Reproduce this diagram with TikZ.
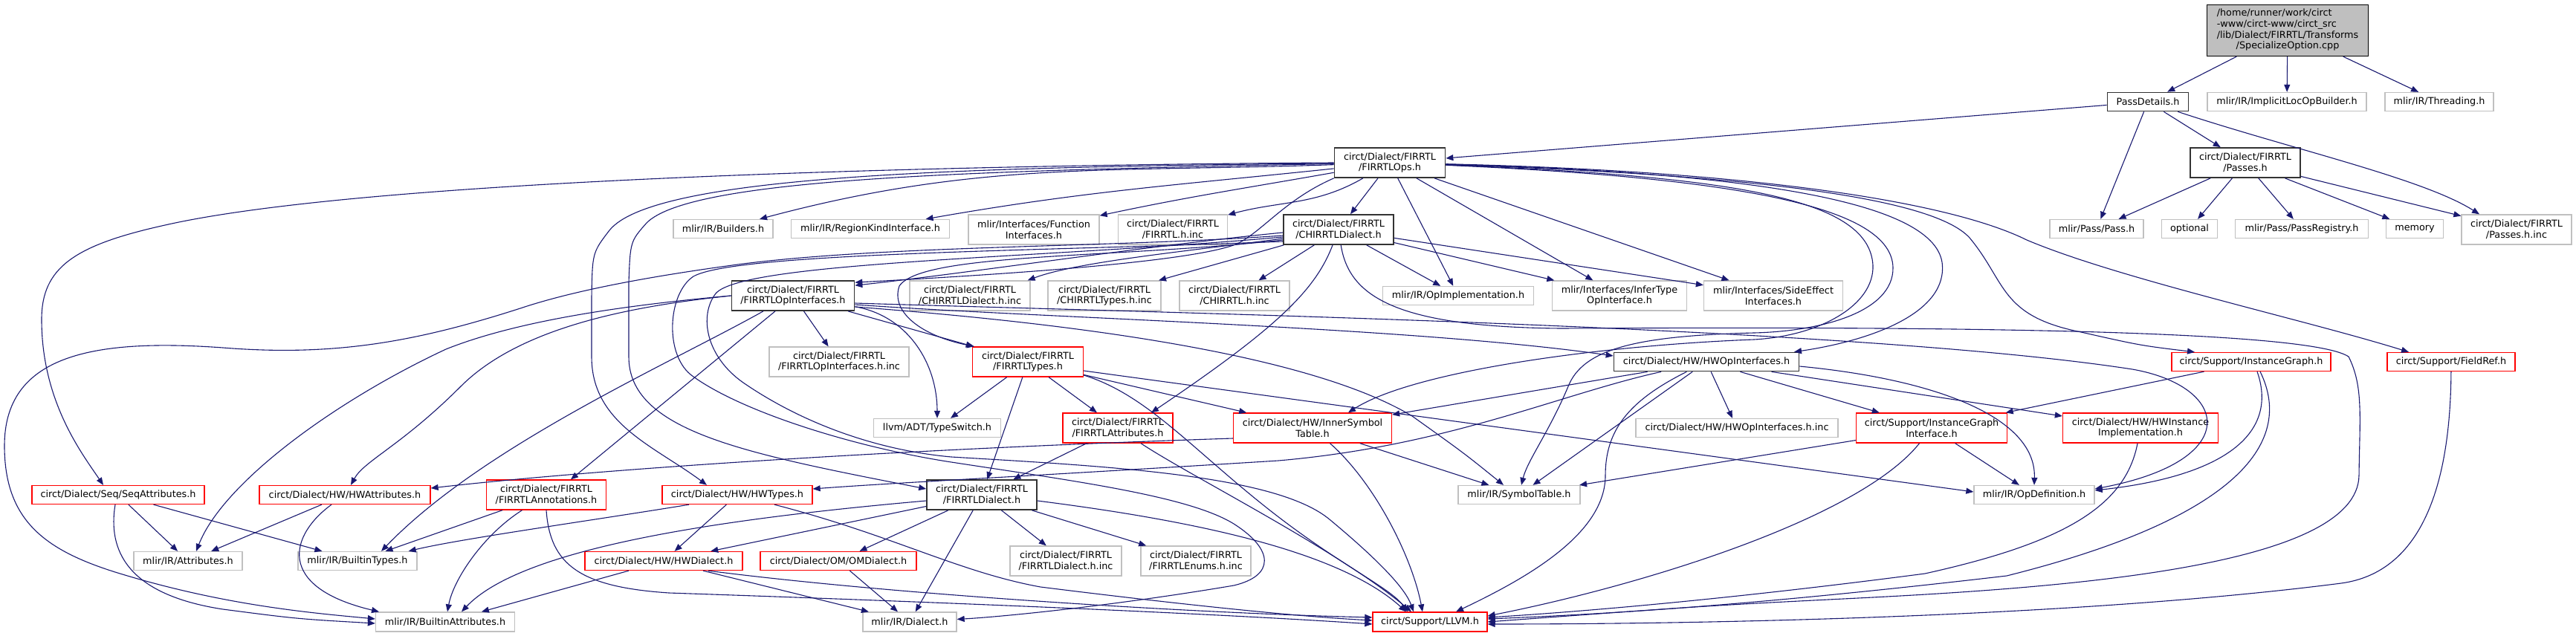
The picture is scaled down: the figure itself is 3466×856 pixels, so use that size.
\documentclass[tikz,border=0pt]{standalone}
\usepackage{fontspec}
\setmainfont{DejaVu Sans}
\usetikzlibrary{arrows.meta}
\definecolor{mblue}{HTML}{191970}
\definecolor{lgray}{HTML}{C0C0C0}
\definecolor{topfill}{HTML}{BFBFBF}
\begin{document}
\begin{tikzpicture}[x=1pt,y=-1pt,
  nd/.style={rectangle, line width=1.3pt, inner sep=0pt, minimum height=25pt, align=center, font=\fontsize{12.8}{14.7}\selectfont, text=black},
  gr/.style={nd, draw=lgray},
  rd/.style={nd, draw=red},
  bk/.style={nd, draw=black!80, line width=1.7pt},
  two/.style={minimum height=40pt},
  e/.style={draw=mblue, line width=1.1pt, -{Triangle[length=10pt,width=8pt]}},
]
\useasboundingbox (0,0) rectangle (3466,856);
% ---------- nodes ----------
\node[nd, draw=black, fill=topfill, minimum width=217pt, minimum height=69pt] (top) at (3078,41) {\begin{tabular}{@{}l@{}}/home/runner/work/circt\\-www/circt-www/circt\_src\\/lib/Dialect/FIRRTL/Transforms\\\multicolumn{1}{@{}c@{}}{/SpecializeOption.cpp}\end{tabular}};
\node[bk, minimum width=109pt] (pd) at (2890,137) {PassDetails.h};
\node[gr, minimum width=214pt] (ilob) at (3077,137) {mlir/IR/ImplicitLocOpBuilder.h};
\node[gr, minimum width=146pt] (thr) at (3282,137) {mlir/IR/Threading.h};
\node[bk, two, minimum width=149pt] (ops) at (1870,219) {circt/Dialect/FIRRTL\\/FIRRTLOps.h};
\node[bk, two, minimum width=148pt] (passes) at (3021,219) {circt/Dialect/FIRRTL\\/Passes.h};
\node[gr, minimum width=134pt] (builders) at (973,308) {mlir/IR/Builders.h};
\node[gr, minimum width=213pt] (regkind) at (1171,308) {mlir/IR/RegionKindInterface.h};
\node[gr, two, minimum width=176pt] (funcif) at (1391,309) {mlir/Interfaces/Function\\Interfaces.h};
\node[gr, two, minimum width=147pt] (firrtlinc) at (1578,309) {circt/Dialect/FIRRTL\\/FIRRTL.h.inc};
\node[bk, two, minimum width=148pt] (chirrtl) at (1801,309) {circt/Dialect/FIRRTL\\/CHIRRTLDialect.h};
\node[gr, minimum width=126pt] (passh) at (2821,308) {mlir/Pass/Pass.h};
\node[gr, minimum width=75pt] (optional) at (2946,308) {optional};
\node[gr, minimum width=179pt] (passreg) at (3097,308) {mlir/Pass/PassRegistry.h};
\node[gr, minimum width=77pt] (memory) at (3249,308) {memory};
\node[gr, two, minimum width=148pt] (passesinc) at (3386,309) {circt/Dialect/FIRRTL\\/Passes.h.inc};
\node[bk, two, minimum width=165pt] (opif) at (1067,398) {circt/Dialect/FIRRTL\\/FIRRTLOpInterfaces.h};
\node[gr, two, minimum width=162pt] (chdinc) at (1305,398) {circt/Dialect/FIRRTL\\/CHIRRTLDialect.h.inc};
\node[gr, two, minimum width=152pt] (chtinc) at (1486,398) {circt/Dialect/FIRRTL\\/CHIRRTLTypes.h.inc};
\node[gr, two, minimum width=148pt] (chinc) at (1661,398) {circt/Dialect/FIRRTL\\/CHIRRTL.h.inc};
\node[gr, minimum width=203pt] (opimpl) at (1962,398) {mlir/IR/OpImplementation.h};
\node[gr, two, minimum width=181pt] (infer) at (2179,398) {mlir/Interfaces/InferType\\OpInterface.h};
\node[gr, two, minimum width=187pt] (side) at (2386,398) {mlir/Interfaces/SideEffect\\Interfaces.h};
\node[gr, two, minimum width=188pt] (opifinc) at (1129,487) {circt/Dialect/FIRRTL\\/FIRRTLOpInterfaces.h.inc};
\node[rd, two, minimum width=149pt] (types) at (1383,487) {circt/Dialect/FIRRTL\\/FIRRTLTypes.h};
\node[bk, minimum width=249pt] (hwopif) at (2296,487) {circt/Dialect/HW/HWOpInterfaces.h};
\node[rd, minimum width=214pt] (igraph) at (3029,487) {circt/Support/InstanceGraph.h};
\node[rd, minimum width=172pt] (fieldref) at (3298,487) {circt/Support/FieldRef.h};
\node[gr, minimum width=171pt] (typeswitch) at (1261,576) {llvm/ADT/TypeSwitch.h};
\node[rd, two, minimum width=148pt] (attrs) at (1504,576) {circt/Dialect/FIRRTL\\/FIRRTLAttributes.h};
\node[rd, two, minimum width=213pt] (isym) at (1766,576) {circt/Dialect/HW/InnerSymbol\\Table.h};
\node[gr, minimum width=272pt] (hwopifinc) at (2337,576) {circt/Dialect/HW/HWOpInterfaces.h.inc};
\node[rd, two, minimum width=203pt] (igif) at (2599,576) {circt/Support/InstanceGraph\\Interface.h};
\node[rd, two, minimum width=209pt] (hwinst) at (2880,576) {circt/Dialect/HW/HWInstance\\Implementation.h};
\node[rd, minimum width=232pt] (seqattr) at (159,666) {circt/Dialect/Seq/SeqAttributes.h};
\node[rd, minimum width=230pt] (hwattr) at (464,666) {circt/Dialect/HW/HWAttributes.h};
\node[rd, two, minimum width=161pt] (annot) at (735,666) {circt/Dialect/FIRRTL\\/FIRRTLAnnotations.h};
\node[rd, minimum width=202pt] (hwtypes) at (992,666) {circt/Dialect/HW/HWTypes.h};
\node[bk, two, minimum width=148pt] (dialect) at (1321,666) {circt/Dialect/FIRRTL\\/FIRRTLDialect.h};
\node[gr, minimum width=164pt] (symtab) at (2044,666) {mlir/IR/SymbolTable.h};
\node[gr, minimum width=162pt] (opdef) at (2737,666) {mlir/IR/OpDefinition.h};
\node[gr, minimum width=146pt] (attributes) at (253,755) {mlir/IR/Attributes.h};
\node[gr, minimum width=160pt] (btypes) at (481,755) {mlir/IR/BuiltinTypes.h};
\node[rd, minimum width=212pt] (hwdialect) at (893,755) {circt/Dialect/HW/HWDialect.h};
\node[rd, minimum width=210pt] (omdialect) at (1128,755) {circt/Dialect/OM/OMDialect.h};
\node[gr, two, minimum width=150pt] (fdinc) at (1434,755) {circt/Dialect/FIRRTL\\/FIRRTLDialect.h.inc};
\node[gr, two, minimum width=148pt] (enuminc) at (1609,755) {circt/Dialect/FIRRTL\\/FIRRTLEnums.h.inc};
\node[gr, minimum width=187pt, minimum height=26pt] (battrs) at (599,837) {mlir/IR/BuiltinAttributes.h};
\node[gr, minimum width=126pt, minimum height=26pt] (mdialect) at (1224,837) {mlir/IR/Dialect.h};
\node[rd, minimum width=154pt, minimum height=26pt] (llvm) at (1924,837) {circt/Support/LLVM.h};
% ---------- edges ----------
% source file
\draw[e] (top) -- (pd);
\draw[e] (top) -- (ilob);
\draw[e] (top) -- (thr);
% PassDetails.h
\draw[e] (pd) -- (ops);
\draw[e] (pd) -- (passes);
\draw[e] (pd) -- (passh);
\draw[e] (pd) .. controls (3080,200) and (3260,240) .. ([xshift=-50pt]passesinc.north);
% Passes.h
\draw[e] (passes) -- (passh);
\draw[e] (passes) -- (optional);
\draw[e] (passes) -- (passreg);
\draw[e] (passes) -- (memory);
\draw[e] (passes) -- (passesinc);
% FIRRTLOps.h
\draw[e] (ops) to[out=182,in=15] (builders);
\draw[e] (ops) to[out=186,in=10] (regkind);
\draw[e] (ops) to[out=190,in=12] (funcif);
\draw[e] (ops) to[out=210,in=15] (firrtlinc);
\draw[e] (ops) -- (chirrtl);
\draw[e] (ops) -- (opimpl);
\draw[e] (ops) -- (infer);
\draw[e] (ops) -- (side);
\draw[e] (ops.south west) .. controls (1730,268) and (1700,310) .. (1665,328) .. controls (1600,355) and (1300,372) .. ([yshift=-3pt]opif.north east);
\draw[e] (ops.west) .. controls (1300,222) and (500,240) .. (222,303) .. controls (100,330) and (56,360) .. (56,430) .. controls (56,540) and (110,610) .. ([xshift=-20pt]seqattr.north);
\draw[e] (ops) .. controls (1300,225) and (880,235) .. (820,310) .. controls (797,340) .. (796,400) -- (796,480) .. controls (796,570) and (880,600) .. ([xshift=-41pt]hwtypes.north);
\draw[e] (ops) .. controls (1300,230) and (930,240) .. (870,300) .. controls (848,325) .. (846,380) -- (846,480) .. controls (846,580) and (1000,610) .. ([yshift=8pt]dialect.west);
\draw[e] (ops) .. controls (2350,232) and (2600,270) .. (2613,353) .. controls (2622,420) and (2520,458) .. ([xshift=118pt]hwopif.north);
\draw[e] (ops) .. controls (2350,240) and (2545,280) .. (2547,360) .. controls (2548,420) and (2450,446) .. (2360,448) .. controls (2200,452) and (2130,470) .. (2110,520) .. controls (2085,580) and (2055,620) .. ([xshift=3pt]symtab.north);
\draw[e] (ops) .. controls (2350,238) and (2515,270) .. (2520,357) .. controls (2522,410) and (2450,452) .. (2360,457) .. controls (2150,465) and (1900,500) .. ([xshift=48pt]isym.north);
\draw[e] (ops) .. controls (2350,235) and (2600,265) .. (2650,320) .. controls (2700,380) and (2690,425) .. (2800,447) .. controls (2880,465) .. ([xshift=-76pt]igraph.north);
\draw[e] (ops) .. controls (2350,230) and (2620,270) .. (2727,323) .. controls (2850,375) and (3100,430) .. ([xshift=-57pt]fieldref.north);
% CHIRRTLDialect.h
\draw[e] ([yshift=-4pt]chirrtl.west) .. controls (1550,330) and (1300,368) .. ([yshift=-7pt]opif.north east);
\draw[e] ([yshift=-12pt]chirrtl.west) .. controls (1600,338) and (1450,352) .. ([xshift=-4pt]chdinc.north east);
\draw[e] (chirrtl) -- (chtinc);
\draw[e] (chirrtl) -- (chinc);
\draw[e] (chirrtl) -- (opimpl);
\draw[e] (chirrtl) -- (infer);
\draw[e] (chirrtl) -- (side);
\draw[e] (chirrtl) .. controls (1770,390) and (1720,440) .. ([xshift=45pt]attrs.north);
\draw[e] ([yshift=-14pt]chirrtl.west) .. controls (1500,348) and (1240,340) .. (1210,385) .. controls (1198,420) and (1240,452) .. ([xshift=-72pt]types.north);
\draw[e] ([yshift=-16pt]chirrtl.west) .. controls (1400,338) and (990,340) .. (933,372) .. controls (898,395) and (893,480) .. (933,507) .. controls (1000,555) and (1150,602) .. (1280,622) .. controls (1450,648) and (1600,668) .. (1660,705) .. controls (1715,740) and (1715,775) .. (1660,788) .. controls (1500,815) and (1350,830) .. (mdialect);
\draw[e] ([yshift=-10pt]chirrtl.west) .. controls (1400,348) and (1000,352) .. (963,395) .. controls (940,425) and (950,480) .. (1000,515) .. controls (1080,570) and (1180,606) .. (1280,615) .. controls (1500,628) and (1720,640) .. (1790,700) .. controls (1850,750) and (1890,790) .. ([xshift=-22pt]llvm.north);
\draw[e] ([yshift=-8pt]chirrtl.west) .. controls (1500,333) and (1200,330) .. (1000,355) .. controls (850,375) and (760,395) .. (700,415) .. controls (560,460) and (450,480) .. (300,468) .. controls (120,455) and (6,480) .. (6,600) .. controls (6,700) and (60,740) .. (155,770) .. controls (300,815) and (420,825) .. ([yshift=4pt]battrs.west);
\draw[e] (chirrtl) .. controls (1815,400) and (1880,440) .. (2100,442) .. controls (2500,440) and (3100,440) .. (3160,480) .. controls (3180,520) and (3175,560) .. (3174,640) .. controls (3172,760) and (2800,790) .. (2500,805) .. controls (2300,815) .. (llvm.east);
% FIRRTLOpInterfaces.h
\draw[e] (opif) -- (opifinc);
\draw[e] (opif) -- (types);
\draw[e] (opif) to[out=-10,in=90] (typeswitch);
\draw[e] (opif.west) .. controls (850,410) and (700,430) .. (600,470) .. controls (450,540) and (300,650) .. ([xshift=11pt]attributes.north);
\draw[e] (opif.west) .. controls (850,412) and (700,440) .. (620,520) .. controls (540,600) and (490,620) .. ([xshift=8pt]hwattr.north);
\draw[e] ([xshift=-40pt]opif.south) .. controls (900,490) and (650,600) .. ([xshift=32pt]btypes.north);
\draw[e] ([xshift=-24pt]opif.south) -- ([xshift=33pt]annot.north);
\draw[e] ([yshift=-12pt]opif.east) .. controls (1400,428) and (1900,440) .. ([yshift=8pt]hwopif.west);
\draw[e] ([yshift=-15pt]opif.east) .. controls (1400,432) and (1750,470) .. (1900,560) .. controls (1970,610) .. ([xshift=-21pt]symtab.north);
\draw[e] ([yshift=-10pt]opif.east) .. controls (1600,422) and (2500,440) .. (2869,497) .. controls (3000,520) and (3020,620) .. ([yshift=8pt]opdef.east);
% FIRRTLTypes.h
\draw[e] (types) -- (typeswitch);
\draw[e] (types) -- (dialect);
\draw[e] (types) -- (attrs);
\draw[e] (types) -- (isym);
\draw[e] ([yshift=-12pt]types.east) -- ([yshift=4pt]opdef.west);
\draw[e] ([yshift=-18pt]types.east) .. controls (1540,530) and (1600,600) .. (1700,680) .. controls (1800,760) and (1870,790) .. ([xshift=-30pt]llvm.north);
% FIRRTLAttributes.h
\draw[e] (attrs) -- (dialect);
\draw[e] (attrs) .. controls (1600,640) and (1800,740) .. ([xshift=-25pt]llvm.north);
% InnerSymbolTable.h
\draw[e] ([yshift=-14pt]isym.west) .. controls (1200,605) and (800,632) .. ([yshift=9pt]hwattr.east);
\draw[e] (isym) -- (symtab);
\draw[e] (isym) .. controls (1850,650) and (1900,750) .. ([xshift=-10pt]llvm.north);
% HWOpInterfaces.h
\draw[e] (hwopif) -- (isym);
\draw[e] (hwopif) .. controls (2100,530) and (1950,600) .. (1720,620) .. controls (1400,640) and (1200,650) .. ([yshift=8pt]hwtypes.east);
\draw[e] (hwopif) -- (symtab);
\draw[e] (hwopif) .. controls (2190,540) and (2160,580) .. (2160,640) .. controls (2160,720) and (2050,780) .. ([xshift=35pt]llvm.north);
\draw[e] (hwopif) -- (hwopifinc);
\draw[e] (hwopif) -- (igif);
\draw[e] ([yshift=-6pt]hwopif.east) .. controls (2600,510) and (2740,560) .. (opdef.north);
\draw[e] (hwopif) -- (hwinst);
% InstanceGraph.h
\draw[e] (igraph) -- (igif);
\draw[e] ([xshift=8pt]igraph.south) .. controls (3065,580) and (3000,640) .. ([yshift=6pt]opdef.east);
\draw[e] ([xshift=12pt]igraph.south) .. controls (3090,600) and (3000,700) .. (2700,775) .. controls (2400,810) and (2200,825) .. ([yshift=4pt]llvm.east);
% FieldRef.h
\draw[e] (fieldref) .. controls (3297,650) and (3260,770) .. (3150,785) .. controls (2800,830) and (2300,840) .. ([yshift=-3pt]llvm.east);
% InstanceGraphInterface.h
\draw[e] (igif) -- (opdef);
\draw[e] (igif) -- (symtab);
\draw[e] (igif) .. controls (2500,700) and (2200,790) .. ([yshift=8pt]llvm.east);
% HWInstanceImplementation.h
\draw[e] (hwinst) .. controls (2860,680) and (2780,730) .. (2590,772) .. controls (2300,810) and (2100,825) .. ([yshift=6pt]llvm.east);
% SeqAttributes.h
\draw[e] (seqattr) -- (attributes);
\draw[e] (seqattr) -- (btypes);
\draw[e] ([xshift=-4pt]seqattr.south) .. controls (145,740) and (170,800) .. (300,820) .. controls (400,833) .. ([yshift=-2pt]battrs.west);
% HWAttributes.h
\draw[e] (hwattr) -- (attributes);
\draw[e] ([xshift=-18pt]hwattr.south) .. controls (390,720) and (370,790) .. ([xshift=-89pt]battrs.north);
% FIRRTLAnnotations.h
\draw[e] (annot) -- (btypes);
\draw[e] (annot) .. controls (650,720) and (610,780) .. ([xshift=3pt]battrs.north);
\draw[e] (annot.south) .. controls (740,760) and (780,790) .. (900,798) .. controls (1400,815) and (1700,830) .. ([yshift=-3pt]llvm.west);
% HWTypes.h
\draw[e] (hwtypes) -- (hwdialect);
\draw[e] ([xshift=-65pt]hwtypes.south) .. controls (800,700) and (620,725) .. ([xshift=-12pt]btypes.north east);
\draw[e] ([xshift=50pt]hwtypes.south) .. controls (1200,720) and (1290,770) .. (1400,790) .. controls (1600,815) and (1750,830) .. ([yshift=2pt]llvm.west);
% FIRRTLDialect.h
\draw[e] (dialect) -- (hwdialect);
\draw[e] (dialect) -- (omdialect);
\draw[e] (dialect) -- (mdialect);
\draw[e] (dialect) -- (fdinc);
\draw[e] (dialect) -- (enuminc);
\draw[e] ([yshift=-8pt]dialect.west) .. controls (950,700) and (700,740) .. ([xshift=22pt]battrs.north);
\draw[e] ([yshift=-8pt]dialect.east) .. controls (1600,700) and (1800,740) .. ([xshift=-32pt]llvm.north);
% HWDialect.h
\draw[e] (hwdialect) -- (battrs);
\draw[e] (hwdialect) -- (mdialect);
\draw[e] ([xshift=60pt]hwdialect.south) .. controls (1200,800) and (1600,825) .. ([yshift=6pt]llvm.west);
% OMDialect.h
\draw[e] (omdialect) -- (mdialect);
\end{tikzpicture}
\end{document}
